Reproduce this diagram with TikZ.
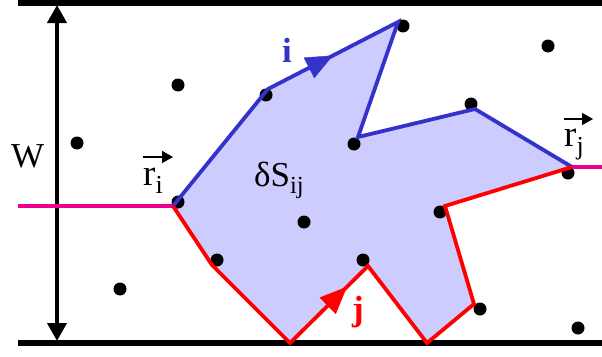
\documentclass[tikz,border=0pt]{standalone}
\usepackage{fontspec}
\setmainfont{Liberation Serif}
\usepackage{tikz}
\usetikzlibrary{arrows.meta,decorations.markings}
\definecolor{edgeblue}{RGB}{51,51,204}
\definecolor{areablue}{RGB}{204,204,255}
\tikzset{
  strip/wall/.style={line width=5.5pt},
  strip/gauge/.style={line width=4pt, {Triangle[length=18pt,width=19pt]}-{Triangle[length=18pt,width=19pt]}},
  strip/cut/.style={line width=3.5pt, magenta},
  strip/dot/.style={circle, fill=black, inner sep=0pt, minimum size=13pt},
  strip/area/.style={fill=areablue},
  path/i/.style={line width=3.8pt, edgeblue},
  path/j/.style={line width=3.8pt, red},
  path/mid/.style={postaction={decorate}, decoration={markings,
    mark=at position #1 with {\arrow{Triangle[length=27pt,width=23pt]}}}},
  vecarrow/.style={line width=1.6pt, -{Triangle[length=11pt,width=12pt]}},
  lbl/.style={font=\fontsize{37}{40}\selectfont, inner sep=0pt},
  lbl/small/.style={font=\fontsize{35}{38}\selectfont, inner sep=0pt}
}

\begin{document}
\begin{tikzpicture}[x=1pt,y=-1pt]
  \useasboundingbox (0,0) rectangle (602,356);

  % strip walls and width
  \coordinate (tl) at (18,3);   \coordinate (tr) at (602,3);
  \coordinate (bl) at (18,343); \coordinate (br) at (602,343);
  \coordinate (wtop) at (57,5); \coordinate (wbot) at (57,341);
  \draw[strip/wall] (tl) -- (tr);
  \draw[strip/wall] (bl) -- (br);
  \draw[strip/gauge] (wtop) -- (wbot);
  \node[lbl/small, anchor=base west] (W) at (11,167) {W};

  % polygon corners
  \coordinate (L) at (173,206);
  \coordinate (b1) at (268,89);  \coordinate (b2) at (398,22);
  \coordinate (b3) at (358,137); \coordinate (b4) at (475,109);
  \coordinate (R) at (572,167);
  \coordinate (r1) at (212,265); \coordinate (r2) at (290,343);
  \coordinate (r3) at (368,266); \coordinate (r4) at (427,343);
  \coordinate (r5) at (474,304); \coordinate (r6) at (445,206);
  \coordinate (cutl) at (18,206); \coordinate (cutr) at (602,167);

  \fill[strip/area] (L) -- (b1) -- (b2) -- (b3) -- (b4) -- (R)
    -- (r6) -- (r5) -- (r4) -- (r3) -- (r2) -- (r1) -- cycle;

  % particles
  \foreach \name/\pos in {p1/{178,202}, p2/{266,95}, p3/{403,26}, p4/{354,144},
      p5/{471,104}, p6/{568,173}, p7/{440,212}, p8/{480,309}, p9/{363,260},
      p10/{217,260}, p11/{304,222}, p12/{178,85}, p13/{77,143}, p14/{120,289},
      p15/{548,46}, p16/{578,328}}
    \node[strip/dot] (\name) at (\pos) {};

  \draw[strip/cut] (cutl) -- (L);
  \draw[strip/cut] (R) -- (cutr);
  \draw[path/i] (L) -- (b1) -- (b2) -- (b3) -- (b4) -- (R);
  \draw[path/j] (L) -- (r1) -- (r2) -- (r3) -- (r4) -- (r5) -- (r6) -- (R);
  \path[path/mid=0.5, color=edgeblue] (b1) -- (b2);
  \path[path/mid=0.73, color=red] (r2) -- (r3);

  % labels
  \node[lbl, anchor=base west] (ri) at (143,185) {r\textsubscript{i}};
  \draw[vecarrow] ([yshift=28pt]ri.base west) -- ++(30,0);
  \node[lbl, anchor=base west] (rj) at (564,146) {r\textsubscript{j}};
  \draw[vecarrow] ([yshift=27pt]rj.base west) -- ++(29,0);
  \node[lbl/small, anchor=base west] (dS) at (254,186) {δS\textsubscript{ij}};
  \node[lbl/small, text=edgeblue] (li) at (287,50) {\textbf{i}};
  \node[lbl/small, text=red] (lj) at (358,312) {\textbf{j}};
\end{tikzpicture}
\end{document}
